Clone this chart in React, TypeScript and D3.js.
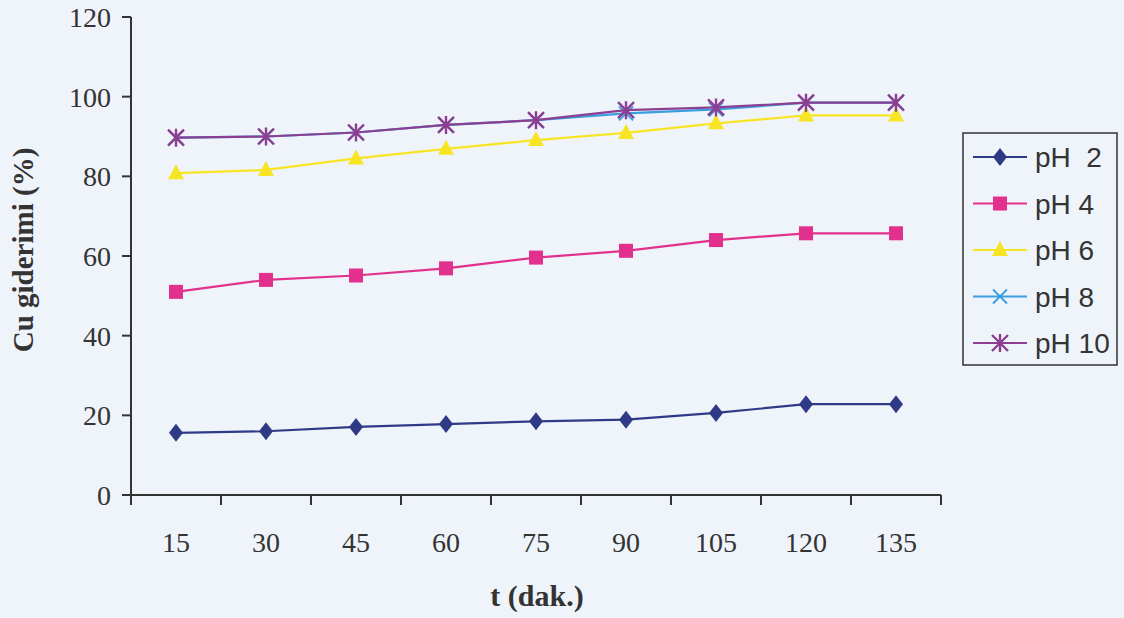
import React from "react";
import * as d3 from "d3";

const categories = ["15", "30", "45", "60", "75", "90", "105", "120", "135"];
const pH2 = [15.6, 16.0, 17.1, 17.8, 18.5, 18.9, 20.6, 22.8, 22.8];
const pH4 = [51.0, 54.0, 55.1, 56.9, 59.6, 61.3, 64.0, 65.7, 65.7];
const pH6 = [80.8, 81.6, 84.5, 86.9, 89.1, 90.9, 93.3, 95.3, 95.3];
const pH8 = [89.7, 90.0, 91.0, 92.9, 94.1, 95.8, 96.8, 98.5, 98.5];
const pH10 = [89.7, 90.0, 91.0, 92.9, 94.1, 96.6, 97.3, 98.5, 98.5];
const yTicks = [0, 20, 40, 60, 80, 100, 120];
const seriesNames = ["pH  2", "pH 4", "pH 6", "pH 8", "pH 10"];

const W = 1124, H = 618;
const left = 131, right = 941, top = 17, bottom = 495;

type Ser = { name: string; values: number[]; color: string; marker: string };
const series: Ser[] = [
  { name: seriesNames[0], values: pH2, color: "#2f3a86", marker: "diamond" },
  { name: seriesNames[1], values: pH4, color: "#e2318c", marker: "square" },
  { name: seriesNames[2], values: pH6, color: "#f7e524", marker: "triangle" },
  { name: seriesNames[3], values: pH8, color: "#3a9ee0", marker: "x" },
  { name: seriesNames[4], values: pH10, color: "#8c3f91", marker: "star" },
];

function Marker({ type, x, y, color }: { type: string; x: number; y: number; color: string }) {
  if (type === "diamond") {
    const s = 8;
    return <path d={`M${x},${y - s - 1}L${x + s - 1},${y}L${x},${y + s + 1}L${x - s + 1},${y}Z`} fill={color} />;
  }
  if (type === "square") {
    return <rect x={x - 7} y={y - 7} width={14} height={14} fill={color} />;
  }
  if (type === "triangle") {
    return <path d={`M${x},${y - 9}L${x + 8},${y + 6}L${x - 8},${y + 6}Z`} fill={color} />;
  }
  if (type === "x") {
    const s = 7;
    return (
      <path d={`M${x - s},${y - s}L${x + s},${y + s}M${x - s},${y + s}L${x + s},${y - s}`} stroke={color} strokeWidth={2} />
    );
  }
  const s = 8;
  return (
    <path
      d={`M${x - s},${y - s}L${x + s},${y + s}M${x - s},${y + s}L${x + s},${y - s}M${x},${y - s - 1}L${x},${y + s + 1}`}
      stroke={color}
      strokeWidth={2.4}
    />
  );
}

export default function App() {
  const x = d3.scaleBand<string>().domain(categories).range([left, right]);
  const y = d3.scaleLinear().domain([0, 120]).range([bottom, top]);
  const cx = (c: string) => (x(c) as number) + x.bandwidth() / 2;
  const line = d3
    .line<number>()
    .x((_, i) => cx(categories[i]))
    .y((v) => y(v));
  const serif = "'Liberation Serif', 'Times New Roman', serif";
  const sans = "'Liberation Sans', Arial, sans-serif";
  const boundaries = categories.map((c) => x(c) as number).concat([right]);

  return (
    <svg width={W} height={H} style={{ position: "absolute", left: 0, top: 0, background: "#eff3fa" }}>
      <rect x={0} y={0} width={W} height={H} fill="#eff3fa" />
      {/* axes */}
      <line x1={left} x2={left} y1={top} y2={bottom} stroke="#333" strokeWidth={2} />
      <line x1={left} x2={right} y1={bottom} y2={bottom} stroke="#333" strokeWidth={2} />
      {yTicks.map((t) => (
        <g key={t}>
          <line x1={left - 9} x2={left} y1={y(t)} y2={y(t)} stroke="#333" strokeWidth={2} />
          <text x={111} y={y(t) + 10} textAnchor="end" fontFamily={serif} fontSize={28} fill="#333">
            {t}
          </text>
        </g>
      ))}
      {boundaries.map((b, i) => (
        <line key={i} x1={b} x2={b} y1={bottom} y2={bottom + 10} stroke="#333" strokeWidth={2} />
      ))}
      {categories.map((c) => (
        <text key={c} x={cx(c)} y={552} textAnchor="middle" fontFamily={serif} fontSize={28} fill="#333">
          {c}
        </text>
      ))}
      <text x={537} y={606} textAnchor="middle" fontFamily={serif} fontSize={30} fontWeight="bold" fill="#333">
        t (dak.)
      </text>
      <text
        transform={`translate(33,250) rotate(-90)`}
        textAnchor="middle"
        fontFamily={serif}
        fontSize={29}
        fontWeight="bold"
        fill="#333"
      >
        Cu giderimi (%)
      </text>
      {/* series */}
      {series.map((s) => (
        <g key={s.name}>
          <path d={line(s.values) as string} fill="none" stroke={s.color} strokeWidth={2.2} />
          {s.values.map((v, i) => (
            <Marker key={i} type={s.marker} x={cx(categories[i])} y={y(v)} color={s.color} />
          ))}
        </g>
      ))}
      {/* legend */}
      <rect x={963} y={133} width={154} height={232} fill="none" stroke="#333" strokeWidth={1.5} />
      {series.map((s, i) => {
        const ly = 157 + i * 46.5;
        return (
          <g key={s.name}>
            <line x1={973} x2={1027} y1={ly} y2={ly} stroke={s.color} strokeWidth={2.2} />
            <Marker type={s.marker} x={1000} y={ly} color={s.color} />
            <text x={1035} y={ly + 10} fontFamily={sans} fontSize={28} fill="#333" style={{ whiteSpace: "pre" }}>
              {s.name}
            </text>
          </g>
        );
      })}
    </svg>
  );
}
